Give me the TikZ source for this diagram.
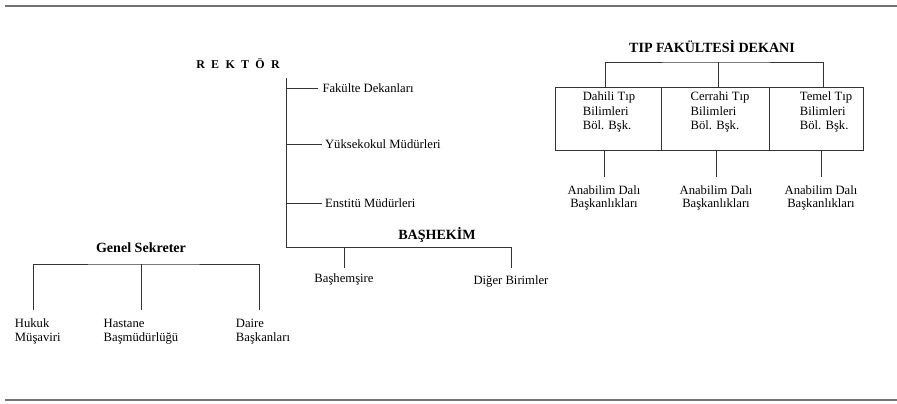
\documentclass[tikz,border=0pt]{standalone}
\usepackage{fontspec}
\setmainfont{Liberation Serif}
\usetikzlibrary{positioning}
\tikzset{
  lbl/.style={font=\fontsize{9}{10.5}\selectfont, inner sep=1pt},
  head/.style={font=\fontsize{10}{12}\selectfont\bfseries, inner sep=1pt},
  link/.style={draw=black!80, line width=0.7pt},
  rule/.style={draw=black!55, line width=1.2pt},
  cellbox/.style={draw=black!80, line width=0.7pt, outer sep=0pt, inner sep=0pt, minimum height=1.575cm},
}
\begin{document}
\begin{tikzpicture}[x=0.025cm, y=-0.025cm]
\def\spine{286}
\useasboundingbox (0,0) rectangle (897,403);

\coordinate (topL) at (5,6);
\coordinate (topR) at (897,6);
\coordinate (botL) at (5,400);
\coordinate (botR) at (897,400);
\draw[rule] (topL) -- (topR);
\draw[rule] (botL) -- (botR);

\node[inner sep=1pt, font=\fontsize{8.5}{10}\selectfont\bfseries] (rektor) at (238,64) {R\hspace{4.5pt}E\hspace{4.5pt}K\hspace{4.5pt}T\hspace{4.5pt}Ö\hspace{4.5pt}R};
\coordinate (spTop) at (\spine,78);
\coordinate (spBot) at (\spine,247);
\coordinate (fakEnd) at (318,88);
\coordinate (yukEnd) at (322,144);
\coordinate (ensEnd) at (322,203);
\node[lbl, right=2pt of fakEnd] (fakulte) {Fakülte Dekanları};
\node[lbl, right=1pt of yukEnd] (yuksek) {Yüksekokul Müdürleri};
\node[lbl, right=1pt of ensEnd] (enstitu) {Enstitü Müdürleri};
\draw[link] (spTop) -- (spBot);
\draw[link] (spTop |- fakEnd) -- (fakEnd);
\draw[link] (spTop |- yukEnd) -- (yukEnd);
\draw[link] (spTop |- ensEnd) -- (ensEnd);

\node[head] (bashekim) at (437,235) {BAŞHEKİM};
\coordinate (bhL) at (344,268);
\coordinate (bhR) at (511,268);
\draw[link] (spBot) -| (bhR);
\draw[link] (bhL |- spBot) -- (bhL);
\node[lbl, below=3pt of bhL] (bashemsire) {Başhemşire};
\node[lbl, below=4pt of bhR] (diger) {Diğer Birimler};

\node[head] (genel) at (141,248) {Genel Sekreter};
\coordinate (gsBar) at (141,264);
\coordinate (gsL) at (33,310);
\coordinate (gsM) at (141,310);
\coordinate (gsR) at (259,310);
\draw[link] (gsL) |- (gsBar) -| (gsR);
\draw[link] (gsBar) -- (gsM);
\node[lbl, align=left, below=5pt of gsL, xshift=0.12cm, yshift=0.01cm] (hukuk) {Hukuk\\Müşaviri};
\node[lbl, align=left, below=5pt of gsM] (hastane) {Hastane\\Başmüdürlüğü};
\node[lbl, align=left, below=5pt of gsR, xshift=0.1cm] (daire) {Daire\\Başkanları};

\node[head] (dekan) at (712,47) {TIP FAKÜLTESİ DEKANI};
\node[cellbox, minimum width=2.65cm, anchor=north west] (dahili) at (555,87) {};
\node[cellbox, minimum width=2.7cm, right=0pt of dahili] (cerrahi) {};
\node[cellbox, minimum width=2.35cm, right=0pt of cerrahi] (temel) {};
\node[lbl, align=left, font=\fontsize{9}{10.3}\selectfont] (dahiliT) at (609,112) {Dahili Tıp\\Bilimleri\\Böl. Bşk.};
\node[lbl, align=left, font=\fontsize{9}{10.3}\selectfont] (cerrahiT) at (720,112) {Cerrahi Tıp\\Bilimleri\\Böl. Bşk.};
\node[lbl, align=left, font=\fontsize{9}{10.3}\selectfont] (temelT) at (826,112) {Temel Tıp\\Bilimleri\\Böl. Bşk.};
\coordinate (tpBar) at (718,62);
\coordinate (tL) at (605,87);
\coordinate (tM) at (718,87);
\coordinate (tR) at (823,87);
\draw[link] (tL) |- (tpBar) -| (tR);
\draw[link] (tpBar) -- (tM);
\coordinate (aL) at (604,177);
\coordinate (aM) at (716,177);
\coordinate (aR) at (821,177);
\draw[link] (aL |- dahili.south) -- (aL);
\draw[link] (aM |- cerrahi.south) -- (aM);
\draw[link] (aR |- temel.south) -- (aR);
\node[lbl, align=center, below=5pt of aL, font=\fontsize{9}{9.5}\selectfont] (anaL) {Anabilim Dalı\\Başkanlıkları};
\node[lbl, align=center, below=5pt of aM, font=\fontsize{9}{9.5}\selectfont] (anaM) {Anabilim Dalı\\Başkanlıkları};
\node[lbl, align=center, below=5pt of aR, font=\fontsize{9}{9.5}\selectfont] (anaR) {Anabilim Dalı\\Başkanlıkları};
\end{tikzpicture}
\end{document}
